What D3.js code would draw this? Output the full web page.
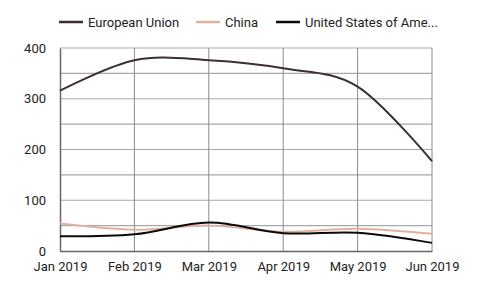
<!DOCTYPE html>
<html>
<head>
<meta charset="utf-8">
<script src="https://cdn.jsdelivr.net/npm/d3@7"></script>
<style>
  body { margin: 0; background: #fff; }
  text { font-family: Roboto, sans-serif; fill: #222; }
</style>
</head>
<body>
<svg id="chart" width="480" height="284"></svg>
<script>
var months = ["Jan 2019", "Feb 2019", "Mar 2019", "Apr 2019", "May 2019", "Jun 2019"];
var euValues = [316, 376, 376, 360, 324, 177];
var chinaValues = [54, 42, 50, 38, 44, 34];
var usaValues = [29, 33, 56, 35, 36, 16];
var seriesNames = ["European Union", "China", "United States of Ame..."];
var seriesColors = ["#3b302d", "#e3b09f", "#0a0a0a"];
var yTicks = [0, 100, 200, 300, 400];

var margin = { top: 48, right: 48, bottom: 33, left: 60 },
    width = 480 - margin.left - margin.right,
    height = 284 - margin.top - margin.bottom;

var svg = d3.select("#chart");
var g = svg.append("g")
    .attr("transform", "translate(" + margin.left + "," + margin.top + ")");

var x = d3.scalePoint().domain(months).range([0, width]);
var y = d3.scaleLinear().domain([0, 400]).range([height, 0]);

// grid lines
g.append("g")
    .selectAll("line")
    .data(d3.range(50, 401, 50))
    .enter().append("line")
    .attr("x1", 0).attr("x2", width)
    .attr("y1", function (d) { return y(d); })
    .attr("y2", function (d) { return y(d); })
    .attr("stroke", "#a8a8a8").attr("stroke-width", 1.2);

g.append("g")
    .selectAll("line")
    .data(months.slice(1))
    .enter().append("line")
    .attr("x1", function (d) { return x(d); })
    .attr("x2", function (d) { return x(d); })
    .attr("y1", 0).attr("y2", height)
    .attr("stroke", "#8a8a8a").attr("stroke-width", 1);

// axes
var yAxis = d3.axisLeft(y).tickValues(yTicks).tickSize(0).tickPadding(14);
var yg = g.append("g").call(yAxis);
yg.select(".domain").attr("stroke", "#666").attr("stroke-width", 1.5);
yg.selectAll("text").style("font-size", "13px").attr("fill", "#222");

var xAxis = d3.axisBottom(x).tickSize(0).tickPadding(11);
var xg = g.append("g").attr("transform", "translate(0," + height + ")").call(xAxis);
xg.select(".domain").attr("stroke", "#666").attr("stroke-width", 1.5);
xg.selectAll("text").style("font-size", "13px").attr("fill", "#222");

// lines
var line = d3.line()
    .x(function (d, i) { return x(months[i]); })
    .y(function (d) { return y(d); })
    .curve(d3.curveCardinal);

var allSeries = [euValues, chinaValues, usaValues];
[1, 0, 2].forEach(function (k) {
    g.append("path")
        .datum(allSeries[k])
        .attr("fill", "none")
        .attr("stroke", seriesColors[k])
        .attr("stroke-width", 2)
        .attr("d", line);
});

// legend
var legendX = [59, 196, 276];
var legend = svg.append("g");
seriesNames.forEach(function (name, i) {
    legend.append("line")
        .attr("x1", legendX[i]).attr("x2", legendX[i] + 24)
        .attr("y1", 22).attr("y2", 22)
        .attr("stroke", seriesColors[i]).attr("stroke-width", 2.5);
    legend.append("text")
        .attr("x", legendX[i] + 29).attr("y", 22)
        .attr("dy", "0.35em")
        .style("font-size", "13px")
        .text(name);
});
</script>
</body>
</html>
